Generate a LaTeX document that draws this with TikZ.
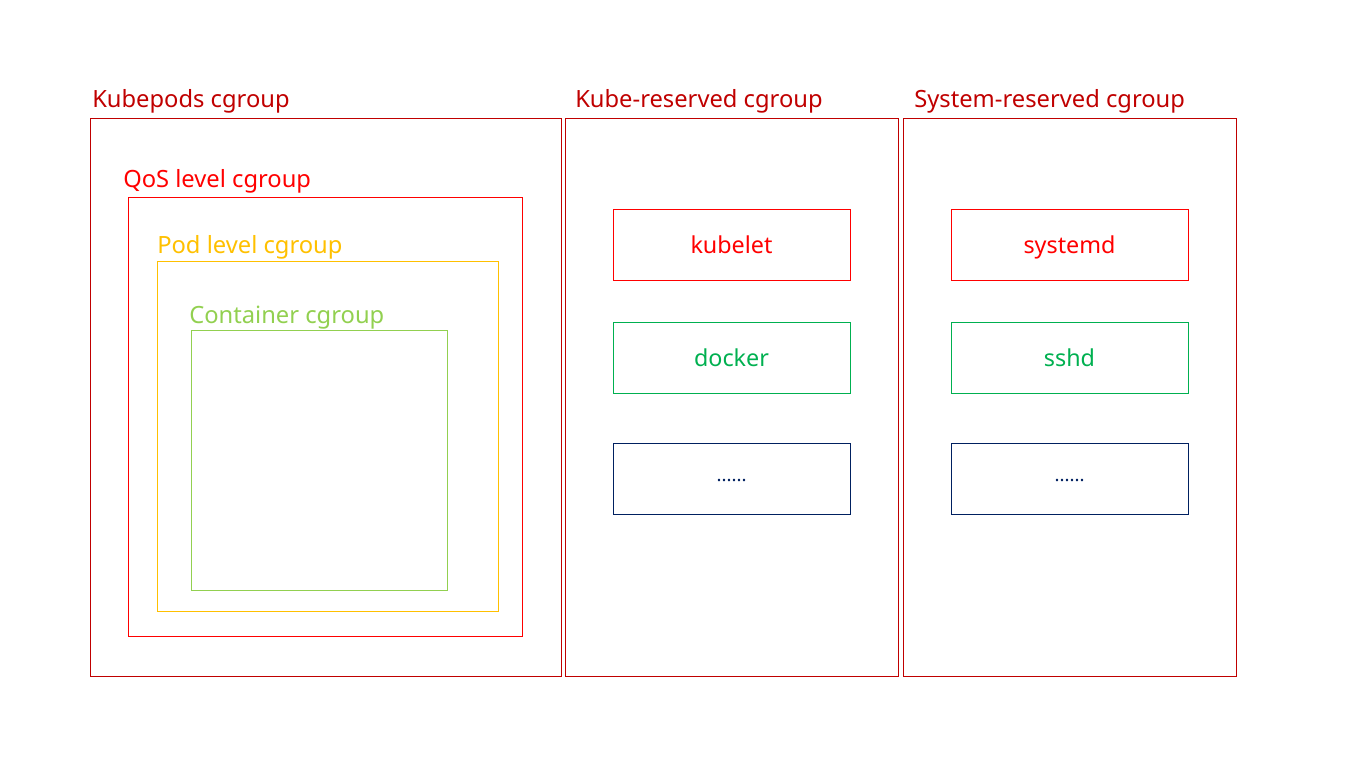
\documentclass[tikz,border=0pt]{standalone}
\usepackage{fontspec}
\setmainfont{Noto Sans}
\definecolor{darkred}{HTML}{C00000}
\definecolor{podyellow}{HTML}{FFC000}
\definecolor{lightgreen}{HTML}{92D050}
\definecolor{procgreen}{HTML}{00B050}
\definecolor{navy}{HTML}{002060}
\begin{document}
\begin{tikzpicture}
		[x=0.75pt,y=-0.75pt,
		group/.style={rectangle,draw=darkred,line width=0.75pt,anchor=north west,inner sep=0pt},
		proc/.style={rectangle,draw=red,text=red,line width=0.75pt,minimum width=177.75pt,minimum height=53.25pt,inner sep=0pt,text height=15pt,text depth=2pt,font=\fontsize{17.5}{20}\selectfont},
		more/.style={proc,draw=navy,text=navy,text height=5pt,text depth=0pt,font=\fontsize{14}{15}\selectfont},
		tag/.style={anchor=base west,inner sep=0pt,text=darkred,font=\fontsize{17.8}{20}\selectfont}
		]
		\useasboundingbox (0,0) rectangle (1369,767);

		\node[group,minimum width=353.25pt,minimum height=418.5pt] (kubepods) at (90,118){};
		\node[group,minimum width=249.75pt,minimum height=418.5pt] (kubereserved) at (565,118){};
		\node[group,minimum width=249.75pt,minimum height=418.5pt] (sysreserved) at (903,118){};
		\node[group,draw=red,minimum width=295.5pt,minimum height=329.25pt] (qos) at (128,197){};
		\node[group,draw=podyellow,minimum width=255.75pt,minimum height=262.5pt] (pod) at (157,261){};
		\node[group,draw=lightgreen,minimum width=192pt,minimum height=195pt] (container) at (191,330){};

\node[tag] (kubepodslabel) at (92,107){Kubepods cgroup};
\node[tag] (kubereservedlabel) at (575,107){Kube-reserved cgroup};
\node[tag] (sysreservedlabel) at (914,107){System-reserved cgroup};
\node[tag,text=red] (qoslabel) at (123,187){QoS level cgroup};
\node[tag,text=podyellow] (podlabel) at (157,253){Pod level cgroup};
\node[tag,text=lightgreen] (containerlabel) at (189,323){Container cgroup};

		\node[proc] (kubelet) at (731.5,244.5){kubelet};
		\node[proc,draw=procgreen,text=procgreen] (docker) at (731.5,357.5){docker};
		\node[more] (kubemore) at (731.5,478.5){......};
		\node[proc] (systemd) at (1069.5,244.5){systemd};
		\node[proc,draw=procgreen,text=procgreen] (sshd) at (1069.5,357.5){sshd};
		\node[more] (sysmore) at (1069.5,478.5){......};
	\end{tikzpicture}
\end{document}
